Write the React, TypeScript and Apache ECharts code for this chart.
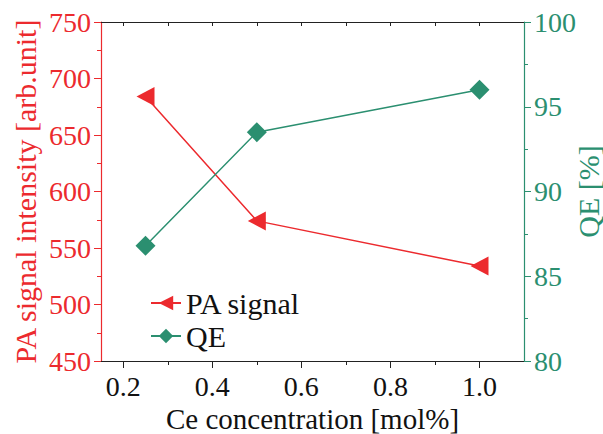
import React, { useEffect, useRef } from "react";
import * as echarts from "echarts";

const concentrations = [0.25, 0.5, 1.0];
const paSignal = [684, 574, 534];
const qe = [86.8, 93.5, 96.0];
const xMajorTicks = [0.2, 0.4, 0.6, 0.8, 1.0];
const xMinorTicks = [0.3, 0.5, 0.7, 0.9];

const RED = "#ec2a2e";
const GREEN = "#2b8f70";
const FONT = "Liberation Serif";

export default function App() {
  const ref = useRef<HTMLDivElement>(null);
  useEffect(() => {
    if (!ref.current) return;
    const chart = echarts.init(ref.current, undefined, { renderer: "svg" });
    const xBase = { type: "value", min: 0.15, max: 1.1, splitLine: { show: false } };
    chart.setOption({
      animation: false,
      grid: { left: 101, right: 79, top: 22, bottom: 73, outerBoundsMode: "none", containLabel: false },
      legend: {
        orient: "vertical",
        left: 145,
        top: 283,
        itemGap: 3,
        itemWidth: 30,
        itemHeight: 18,
        textStyle: { fontSize: 30, fontFamily: FONT, color: "#111" },
        data: ["PA signal", "QE"],
      },
      xAxis: [
        {
          ...xBase,
          position: "bottom",
          name: "Ce concentration [mol%]",
          nameLocation: "middle",
          nameGap: 43,
          nameMoveOverlap: false,
          nameTextStyle: { fontSize: 29, fontFamily: FONT, color: "#111" },
          axisLine: { lineStyle: { color: "#222", width: 1.2 } },
          axisTick: { customValues: xMajorTicks, length: 7, lineStyle: { color: "#222" } },
          axisLabel: {
            customValues: xMajorTicks,
            formatter: (v: number) => v.toFixed(1),
            fontSize: 28,
            fontFamily: FONT,
            color: "#111",
            margin: 11,
          },
        },
        {
          ...xBase,
          position: "bottom",
          axisLine: { show: false },
          axisTick: { customValues: xMinorTicks, length: 4, lineStyle: { color: "#222" } },
          axisLabel: { show: false },
        },
        {
          ...xBase,
          position: "top",
          axisLine: { lineStyle: { color: "#222", width: 1.2 } },
          axisTick: { inside: true, customValues: [...xMajorTicks, ...xMinorTicks], length: 4, lineStyle: { color: "#222" } },
          axisLabel: { show: false },
        },
      ],
      yAxis: [
        {
          type: "value",
          min: 450,
          max: 750,
          interval: 50,
          position: "left",
          name: "PA signal intensity [arb.unit]",
          nameLocation: "middle",
          nameGap: 61,
          nameMoveOverlap: false,
          nameTextStyle: { fontSize: 30, fontFamily: FONT, color: RED },
          splitLine: { show: false },
          axisLine: { show: true, lineStyle: { color: RED, width: 1.2 } },
          axisTick: { show: true, length: 7, lineStyle: { color: RED } },
          minorTick: { show: true, splitNumber: 2, length: 4, lineStyle: { color: RED } },
          axisLabel: { fontSize: 28, fontFamily: FONT, color: RED, margin: 10 },
        },
        {
          type: "value",
          min: 80,
          max: 100,
          interval: 5,
          position: "right",
          name: "QE [%]",
          nameLocation: "middle",
          nameGap: 49,
          nameMoveOverlap: false,
          nameTextStyle: { fontSize: 30, fontFamily: FONT, color: GREEN },
          splitLine: { show: false },
          axisLine: { show: true, lineStyle: { color: GREEN, width: 1.2 } },
          axisTick: { show: true, length: 7, lineStyle: { color: GREEN } },
          minorTick: { show: true, splitNumber: 2, length: 4, lineStyle: { color: GREEN } },
          axisLabel: { fontSize: 28, fontFamily: FONT, color: GREEN, margin: 10 },
        },
      ],
      series: [
        {
          name: "PA signal",
          type: "line",
          xAxisIndex: 0,
          yAxisIndex: 0,
          data: concentrations.map((c, i) => [c, paSignal[i]]),
          symbol: "triangle",
          symbolRotate: 90,
          symbolSize: [19, 18],
          lineStyle: { color: RED, width: 1.5 },
          itemStyle: { color: RED },
        },
        {
          name: "QE",
          type: "line",
          xAxisIndex: 0,
          yAxisIndex: 1,
          data: concentrations.map((c, i) => [c, qe[i]]),
          symbol: "diamond",
          symbolSize: 20,
          lineStyle: { color: GREEN, width: 1.5 },
          itemStyle: { color: GREEN },
        },
      ],
    });
    return () => chart.dispose();
  }, []);
  return <div ref={ref} style={{ width: 603, height: 434, position: "absolute", left: 0, top: 0, background: "#fff" }} />;
}
